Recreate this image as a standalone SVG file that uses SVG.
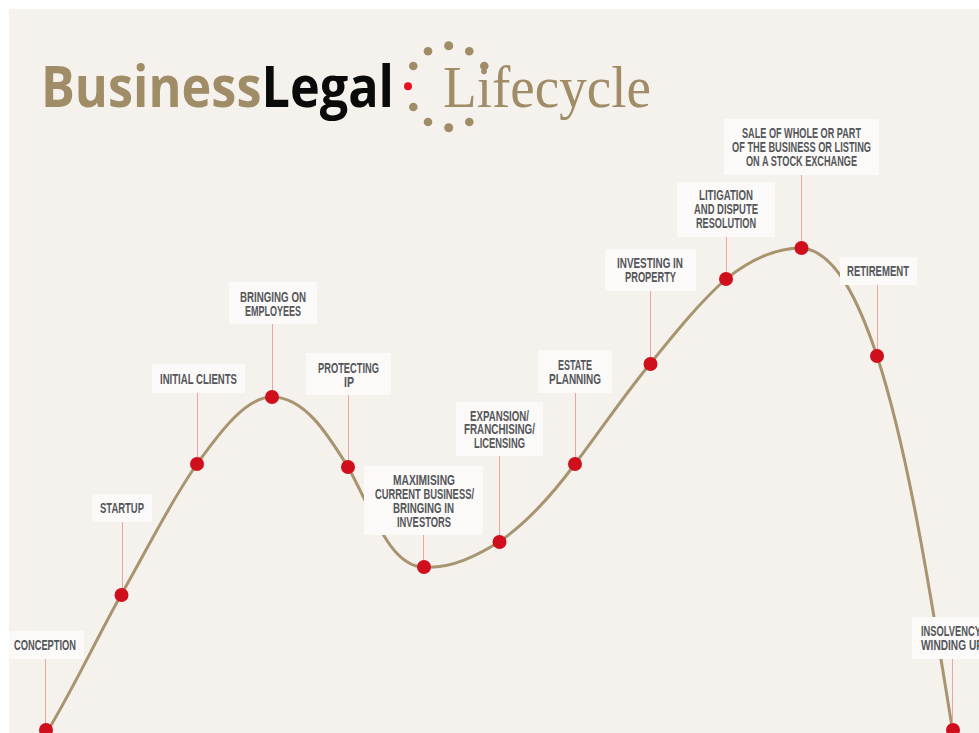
<svg xmlns="http://www.w3.org/2000/svg" width="979" height="733" viewBox="0 0 979 733">
<style>
.box{fill:#fbfaf8}
.lb{font-family:"Liberation Sans Narrow","Liberation Sans",Arial,sans-serif;font-size:15px;font-weight:700;fill:#55565a}
.dot{fill:#cf0f1c}
.lead{stroke:#eea5a0;stroke-width:1;fill:none}
.gold{fill:#a08c66}
</style>
<rect width="979" height="733" fill="#ffffff"/>
<rect x="9" y="9" width="970" height="724" fill="#f5f2ee"/>
<g id="logo">
<text x="41" y="107" font-family="'Open Sans',sans-serif" font-size="57" font-weight="700" fill="#a08c66" textLength="353" lengthAdjust="spacingAndGlyphs">Business<tspan fill="#0a0a0a">Legal</tspan></text>
<text x="443" y="107" font-family="'Liberation Serif',serif" font-size="60" fill="#a08c66" textLength="208" lengthAdjust="spacingAndGlyphs">Lifecycle</text>
<circle cx="408" cy="86.300" r="4" fill="#e8101f"/>
<g class="gold"><circle cx="448.700" cy="45.700" r="4.500"/><circle cx="428" cy="51.300" r="4.300"/><circle cx="469.300" cy="51.300" r="4.300"/><circle cx="413.300" cy="66" r="4.300"/><circle cx="484.300" cy="66" r="4.300"/><circle cx="413.300" cy="107" r="4.300"/><circle cx="428" cy="122" r="4.300"/><circle cx="469.300" cy="122" r="4.300"/><circle cx="448.700" cy="127.700" r="4.500"/></g>
</g>
<g id="connectors">
<path d="M50 727C75 685 98 636 121 595C146 552 170 502 197 464C220 432 246 397 272 397C305 397 328 435 348 467C372 510 390 567 424 567C452 569 478 555 499 542C528 522 552 495 575 464C600 431 625 394 650 364C675 333 700 302 726 279C750 260 775 248 801 248C836 250 860 305 877 356C908 450 930 590 952 727" fill="none" stroke="#a8946e" stroke-width="3"/>
<path class="lead" d="M45.500 659V725M122.500 522V590M197.500 393V459M272.500 324V392M348.500 395V462M423.500 535V562M499.500 456V537M575.500 393V459M650.500 291V359M726.500 237V274M801.500 175V243M877.500 285V351M952.500 659V725"/>
</g>
<g id="n1"><rect class="box" x="9" y="631" width="75" height="28"/><text class="lb" x="14" y="650" textLength="62" lengthAdjust="spacingAndGlyphs">CONCEPTION</text><circle class="dot" cx="46" cy="730" r="7"/></g>
<g id="n2"><rect class="box" x="92" y="494" width="60" height="28"/><text class="lb" x="100" y="513" textLength="44" lengthAdjust="spacingAndGlyphs">STARTUP</text><circle class="dot" cx="121.500" cy="595" r="7"/></g>
<g id="n3"><rect class="box" x="152" y="364" width="93" height="29"/><text class="lb" x="160" y="384" textLength="77" lengthAdjust="spacingAndGlyphs">INITIAL CLIENTS</text><circle class="dot" cx="197" cy="464" r="7"/></g>
<g id="n4"><rect class="box" x="229" y="282" width="88" height="42"/><text class="lb" x="240" y="302" textLength="66" lengthAdjust="spacingAndGlyphs">BRINGING ON</text><text class="lb" x="245" y="316" textLength="56" lengthAdjust="spacingAndGlyphs">EMPLOYEES</text><circle class="dot" cx="272" cy="397" r="7"/></g>
<g id="n5"><rect class="box" x="306" y="353" width="85" height="42"/><text class="lb" x="318" y="373" textLength="61" lengthAdjust="spacingAndGlyphs">PROTECTING</text><text class="lb" x="344" y="387" textLength="10" lengthAdjust="spacingAndGlyphs">IP</text><circle class="dot" cx="348" cy="467" r="7"/></g>
<g id="n6"><rect class="box" x="364" y="466" width="119" height="69"/><text class="lb" x="393" y="485" textLength="62" lengthAdjust="spacingAndGlyphs">MAXIMISING</text><text class="lb" x="375" y="499" textLength="99" lengthAdjust="spacingAndGlyphs">CURRENT BUSINESS/</text><text class="lb" x="393" y="513" textLength="61" lengthAdjust="spacingAndGlyphs">BRINGING IN</text><text class="lb" x="397" y="527" textLength="54" lengthAdjust="spacingAndGlyphs">INVESTORS</text><circle class="dot" cx="424" cy="567" r="7"/></g>
<g id="n7"><rect class="box" x="456" y="402" width="87" height="54"/><text class="lb" x="470" y="421" textLength="59" lengthAdjust="spacingAndGlyphs">EXPANSION/</text><text class="lb" x="464" y="434" textLength="71" lengthAdjust="spacingAndGlyphs">FRANCHISING/</text><text class="lb" x="474" y="448" textLength="51" lengthAdjust="spacingAndGlyphs">LICENSING</text><circle class="dot" cx="499.500" cy="542" r="7"/></g>
<g id="n8"><rect class="box" x="538" y="350" width="74" height="43"/><text class="lb" x="558" y="370" textLength="34" lengthAdjust="spacingAndGlyphs">ESTATE</text><text class="lb" x="549" y="384" textLength="52" lengthAdjust="spacingAndGlyphs">PLANNING</text><circle class="dot" cx="575" cy="464" r="7"/></g>
<g id="n9"><rect class="box" x="605" y="249" width="91" height="42"/><text class="lb" x="617" y="268" textLength="66" lengthAdjust="spacingAndGlyphs">INVESTING IN</text><text class="lb" x="625" y="282" textLength="51" lengthAdjust="spacingAndGlyphs">PROPERTY</text><circle class="dot" cx="650.500" cy="364" r="7"/></g>
<g id="n10"><rect class="box" x="677" y="182" width="98" height="55"/><text class="lb" x="699" y="200" textLength="54" lengthAdjust="spacingAndGlyphs">LITIGATION</text><text class="lb" x="694" y="214" textLength="64" lengthAdjust="spacingAndGlyphs">AND DISPUTE</text><text class="lb" x="696" y="228" textLength="60" lengthAdjust="spacingAndGlyphs">RESOLUTION</text><circle class="dot" cx="726" cy="279" r="7"/></g>
<g id="n11"><rect class="box" x="724" y="119" width="155" height="56"/><text class="lb" x="742" y="138" textLength="119" lengthAdjust="spacingAndGlyphs">SALE OF WHOLE OR PART</text><text class="lb" x="732" y="152" textLength="139" lengthAdjust="spacingAndGlyphs">OF THE BUSINESS OR LISTING</text><text class="lb" x="746" y="166" textLength="111" lengthAdjust="spacingAndGlyphs">ON A STOCK EXCHANGE</text><circle class="dot" cx="801.500" cy="248" r="7"/></g>
<g id="n12"><rect class="box" x="840" y="257" width="77" height="28"/><text class="lb" x="847" y="276" textLength="62" lengthAdjust="spacingAndGlyphs">RETIREMENT</text><circle class="dot" cx="877" cy="356" r="7"/></g>
<g id="n13"><rect class="box" x="912" y="617" width="67" height="42"/><text class="lb" x="921" y="636" textLength="60" lengthAdjust="spacingAndGlyphs">INSOLVENCY</text><text class="lb" x="921" y="650" textLength="62" lengthAdjust="spacingAndGlyphs">WINDING UP</text><circle class="dot" cx="953" cy="730" r="7"/></g>
</svg>
